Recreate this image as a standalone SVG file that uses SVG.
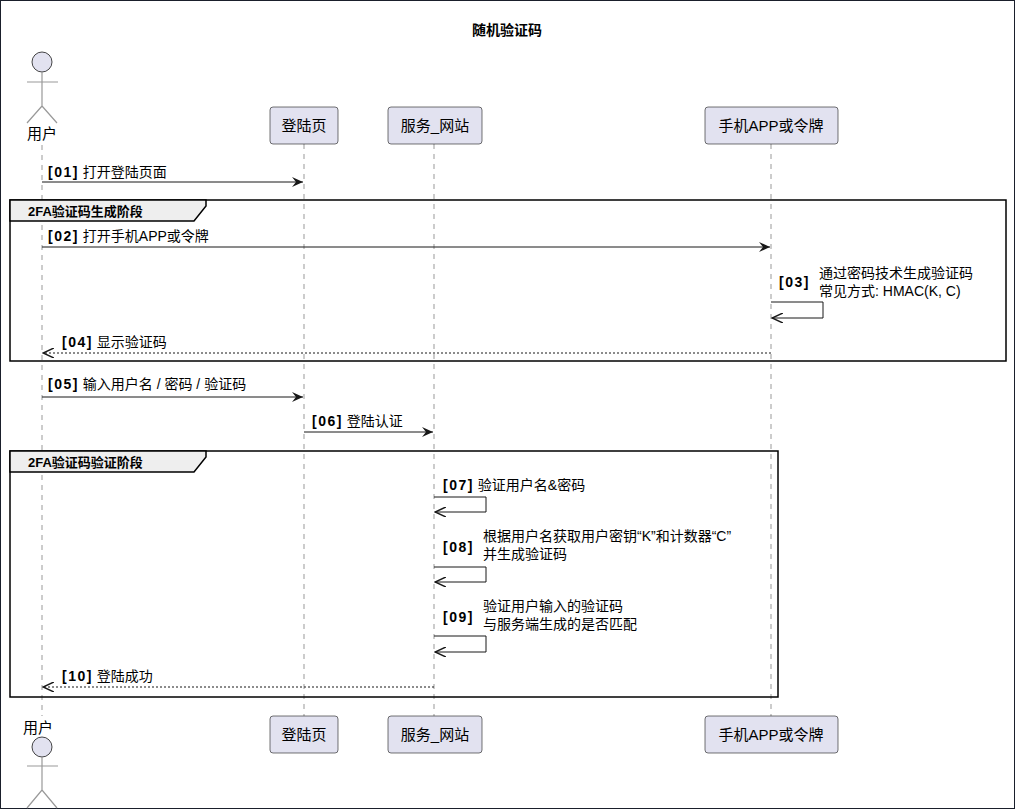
<svg xmlns="http://www.w3.org/2000/svg" width="1015" height="809" viewBox="0 0 1015 809">
<style>
text{font-family:"Liberation Sans","Noto Sans CJK SC",sans-serif;font-size:14px;fill:#000}
.n{font-weight:bold;letter-spacing:1.5px}
.t{font-size:14px;font-weight:bold}
.p{font-size:15px}
.box{fill:#E2E2F0;stroke:#181818;stroke-width:0.6}
.life{stroke:#999;stroke-dasharray:5 5;stroke-width:1}
.act{fill:none;stroke:#999;stroke-width:1.2}
.m{stroke:#181818;stroke-width:1;fill:none}
.d{stroke:#181818;stroke-width:1;fill:none;stroke-dasharray:2 2}
.fr{fill:none;stroke:#000;stroke-width:1.5}
.tab{fill:#EEE;stroke:#000;stroke-width:1.5}
.fl{font-size:13px;font-weight:bold}
</style>
<defs>
<marker id="a" viewBox="0 0 12 10" refX="11" refY="5" markerWidth="12" markerHeight="10" markerUnits="userSpaceOnUse" orient="auto"><path d="M0,0 L11,5 L0,10 L4,5 Z" fill="#181818"/></marker>
<marker id="o" viewBox="0 0 12 10" refX="11" refY="5" markerWidth="12" markerHeight="10" markerUnits="userSpaceOnUse" orient="auto"><path d="M0,0 L11,5 L0,10" fill="none" stroke="#181818" stroke-width="1.5"/></marker>
</defs>
<rect x="0" y="0" width="1015" height="809" fill="#fff" stroke="#1a1f2b" stroke-width="2"/>
<text class="t" x="507" y="35" text-anchor="middle">随机验证码</text>
<g id="lifelines">
<line class="life" x1="42" y1="145" x2="42" y2="716"/>
<line class="life" x1="304" y1="144" x2="304" y2="716"/>
<line class="life" x1="434" y1="144" x2="434" y2="716"/>
<line class="life" x1="771" y1="144" x2="771" y2="716"/>
</g>
<g id="user">
<circle cx="42" cy="62" r="10" fill="#E2E2F0" stroke="#181818" stroke-width="0.8"/>
<path class="act" d="M42,72 V106 M27,82 H58 M27,123 L42,106 L57,123"/>
<text class="p" x="42" y="139" text-anchor="middle">用户</text>
</g>
<g id="user-bottom">
<text class="p" x="38" y="733" text-anchor="middle">用户</text>
<circle cx="42" cy="747" r="10" fill="#E2E2F0" stroke="#181818" stroke-width="0.8"/>
<path class="act" d="M42,757 V790 M27,766 H58 M27,808 L42,790 L57,808"/>
</g>
<g id="login"><rect class="box" x="270" y="107" width="68" height="37" rx="3"/><text class="p" x="304" y="131" text-anchor="middle">登陆页</text></g>
<g id="server"><rect class="box" x="388" y="107" width="94" height="37" rx="3"/><text class="p" x="435" y="131" text-anchor="middle">服务_网站</text></g>
<g id="app"><rect class="box" x="705" y="107" width="133" height="37" rx="3"/><text class="p" x="771" y="131" text-anchor="middle">手机APP或令牌</text></g>
<g id="login-bottom"><rect class="box" x="270" y="716" width="68" height="37" rx="3"/><text class="p" x="304" y="740" text-anchor="middle">登陆页</text></g>
<g id="server-bottom"><rect class="box" x="388" y="716" width="94" height="37" rx="3"/><text class="p" x="435" y="740" text-anchor="middle">服务_网站</text></g>
<g id="app-bottom"><rect class="box" x="705" y="716" width="133" height="37" rx="3"/><text class="p" x="771" y="740" text-anchor="middle">手机APP或令牌</text></g>
<g id="frame1">
<rect class="fr" x="10" y="200" width="996" height="161"/>
<path class="tab" d="M10,200 H206 V206 L194,221 H10 Z"/>
<text class="fl" x="28" y="216">2FA验证码生成阶段</text>
</g>
<g id="frame2">
<rect class="fr" x="10" y="451" width="768" height="246"/>
<path class="tab" d="M10,451 H206 V457 L194,472 H10 Z"/>
<text class="fl" x="28" y="467">2FA验证码验证阶段</text>
</g>
<g id="connectors">
<line class="m" x1="42" y1="182" x2="303" y2="182" marker-end="url(#a)"/>
<text x="48" y="177"><tspan class="n">[01]</tspan> 打开登陆页面</text>
<line class="m" x1="42" y1="247" x2="770" y2="247" marker-end="url(#a)"/>
<text x="48" y="241"><tspan class="n">[02]</tspan> 打开手机APP或令牌</text>
<path class="m" d="M771,302 H823 V318 H772" marker-end="url(#o)"/>
<text x="779" y="287" class="n">[03]</text>
<text x="819" y="278">通过密码技术生成验证码</text>
<text x="819" y="296">常见方式: HMAC(K, C)</text>
<line class="d" x1="771" y1="353" x2="43" y2="353" marker-end="url(#o)"/>
<text x="62" y="347"><tspan class="n">[04]</tspan> 显示验证码</text>
<line class="m" x1="42" y1="397" x2="303" y2="397" marker-end="url(#a)"/>
<text x="48" y="389"><tspan class="n">[05]</tspan> 输入用户名 / 密码 / 验证码</text>
<line class="m" x1="304" y1="432" x2="433" y2="432" marker-end="url(#a)"/>
<text x="312" y="426"><tspan class="n">[06]</tspan> 登陆认证</text>
<path class="m" d="M434,497 H486 V512 H435" marker-end="url(#o)"/>
<text x="443" y="490"><tspan class="n">[07]</tspan> 验证用户名&amp;密码</text>
<path class="m" d="M434,567 H486 V582 H435" marker-end="url(#o)"/>
<text x="443" y="552" class="n">[08]</text>
<text x="483" y="541">根据用户名获取用户密钥“K”和计数器“C”</text>
<text x="483" y="559">并生成验证码</text>
<path class="m" d="M434,636 H486 V652 H435" marker-end="url(#o)"/>
<text x="443" y="622" class="n">[09]</text>
<text x="483" y="611">验证用户输入的验证码</text>
<text x="483" y="629">与服务端生成的是否匹配</text>
<line class="d" x1="434" y1="687" x2="43" y2="687" marker-end="url(#o)"/>
<text x="62" y="681"><tspan class="n">[10]</tspan> 登陆成功</text>
</g>
</svg>
